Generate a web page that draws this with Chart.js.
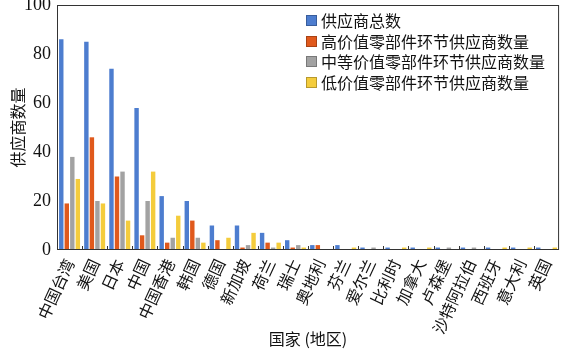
<!DOCTYPE html>
<html>
<head>
<meta charset="utf-8">
<script src="https://cdn.jsdelivr.net/npm/chart.js@4/dist/chart.umd.min.js"></script>
<style>
  body { margin: 0; background: #fff; }
  #boite { position: relative; width: 570px; height: 353px; }
  #legende { position: absolute; left: 306px; top: 10px; font-family: "Noto Sans CJK SC", sans-serif; font-size: 16px; color: #111; }
  #legende div { height: 20.5px; line-height: 20.5px; white-space: nowrap; }
  #legende span { display: inline-block; width: 9px; height: 9px; margin-right: 4px; vertical-align: 1px; border: 1px solid rgba(0,0,0,0.25); }
</style>
</head>
<body>
<div id="boite">
  <canvas id="graphique" width="570" height="353"></canvas>
  <div id="legende"></div>
</div>
<script>
// categories (axe X)
const categories = ["中国台湾", "美国", "日本", "中国", "中国香港", "韩国", "德国", "新加坡", "荷兰", "瑞士",
  "奥地利", "芬兰", "爱尔兰", "比利时", "加拿大", "卢森堡", "沙特阿拉伯", "西班牙", "意大利", "英国"];

// series
const totalFournisseurs = [86, 85, 74, 58, 22, 20, 10, 10, 7, 4, 2, 2, 1, 1, 1, 1, 1, 1, 1, 1];
const valeurHaute = [19, 46, 30, 6, 3, 12, 4, 1, 3, 1, 2, 0, 0, 0, 0, 0, 0, 0, 0, 0];
const valeurMoyenne = [38, 20, 32, 20, 5, 5, 0, 2, 1, 2, 0, 0, 1, 0, 0, 1, 1, 0, 0, 0];
const valeurBasse = [29, 19, 12, 32, 14, 3, 5, 7, 3, 1, 0, 1, 0, 1, 1, 0, 0, 1, 1, 1];

const nomsSeries = ["供应商总数", "高价值零部件环节供应商数量", "中等价值零部件环节供应商数量", "低价值零部件环节供应商数量"];
const couleurs = ["#4d7dcf", "#e0591c", "#a2a2a2", "#f4cc3c"];

// ticks axe Y
const ticksY = [0, 20, 40, 60, 80, 100];

// cadre + petites graduations entre categories
const cadre = {
  id: "cadre",
  afterDraw(chart) {
    const { ctx, chartArea: a, scales: { x } } = chart;
    ctx.save();
    ctx.strokeStyle = "#333";
    ctx.lineWidth = 1;
    ctx.strokeRect(a.left + 0.5, a.top + 0.5, a.width - 1, a.height - 1);
    const pas = a.width / categories.length;
    ctx.beginPath();
    for (let i = 1; i < categories.length; i++) {
      const px = Math.round(x.getPixelForValue(i) - pas / 2) + 0.5;
      ctx.moveTo(px, a.bottom);
      ctx.lineTo(px, a.bottom - 4);
    }
    ctx.stroke();
    ctx.restore();
  }
};

const series = [totalFournisseurs, valeurHaute, valeurMoyenne, valeurBasse];

const graphique = new Chart(document.getElementById("graphique"), {
  type: "bar",
  data: {
    labels: categories,
    datasets: series.map((d, i) => ({
      label: nomsSeries[i],
      data: d,
      backgroundColor: couleurs[i],
      borderWidth: 0,
      categoryPercentage: 0.88,
      barPercentage: 0.8
    }))
  },
  options: {
    responsive: false,
    animation: false,
    devicePixelRatio: 1,
    layout: { padding: { top: 0, right: 3, left: 0, bottom: 0 } },
    plugins: {
      legend: { display: false },
      tooltip: { enabled: false }
    },
    scales: {
      x: {
        grid: { display: false, drawTicks: false },
        border: { display: false },
        ticks: {
          color: "#111",
          font: { family: "Noto Sans CJK SC", size: 16 },
          maxRotation: 65,
          minRotation: 65,
          autoSkip: false,
          padding: 6
        },
        title: {
          display: true,
          text: "国家 (地区)",
          color: "#111",
          font: { family: "Noto Sans CJK SC", size: 16 },
          padding: { top: 0, bottom: 4 }
        },
        afterFit: (s) => { s.height = 103; }
      },
      y: {
        min: 0,
        max: 100,
        grid: { display: false, drawTicks: false },
        border: { display: false },
        afterBuildTicks: (s) => { s.ticks = ticksY.map(v => ({ value: v })); },
        ticks: {
          color: "#111",
          font: { family: "Liberation Serif", size: 18 },
          padding: 6
        },
        title: {
          display: true,
          text: "供应商数量",
          color: "#111",
          font: { family: "Noto Sans CJK SC", size: 16 },
          padding: { top: 8, bottom: 0 }
        },
        afterFit: (s) => { s.width = 57; s.paddingTop = 5; s.paddingBottom = 0; }
      }
    }
  },
  plugins: [cadre]
});

// legende en HTML, construite a partir des datasets
const legende = document.getElementById("legende");
graphique.data.datasets.forEach((ds) => {
  const ligne = document.createElement("div");
  ligne.innerHTML = `<span style="background:${ds.backgroundColor}"></span>${ds.label}`;
  legende.appendChild(ligne);
});
</script>
</body>
</html>
